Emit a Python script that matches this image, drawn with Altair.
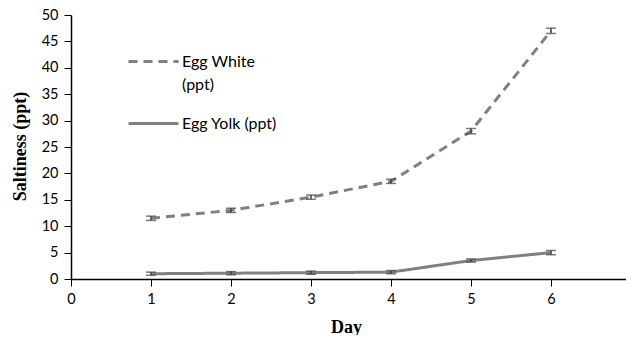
import altair as alt
import pandas as pd

days = [1, 2, 3, 4, 5, 6]
white = [11.5, 13.0, 15.5, 18.5, 28.0, 47.0]
yolk = [1.0, 1.1, 1.2, 1.3, 3.5, 5.0]
white_err = [0.4, 0.4, 0.4, 0.4, 0.5, 0.5]
yolk_err = [0.3, 0.3, 0.3, 0.3, 0.3, 0.4]
series = ["Egg White (ppt)", "Egg Yolk (ppt)"]
x_ticks = [0, 1, 2, 3, 4, 5, 6, 7]
y_ticks = [0, 5, 10, 15, 20, 25, 30, 35, 40, 45, 50]

rows = []
for d, v, e in zip(days, white, white_err):
    rows.append({"Day": d, "value": v, "lo": v - e, "hi": v + e, "series": series[0]})
for d, v, e in zip(days, yolk, yolk_err):
    rows.append({"Day": d, "value": v, "lo": v - e, "hi": v + e, "series": series[1]})
df = pd.DataFrame(rows)

FONT = "Lato"
xscale = alt.Scale(domain=[0, 7], nice=False, zero=False, range=[0, 560])
yscale = alt.Scale(domain=[0, 50], nice=False)

x_axis = alt.Axis(title="Day", values=x_ticks, format="d", grid=False,
                  domainColor="black", tickColor="black", domainWidth=1.5,
                  tickSize=7, labelPadding=6, labelFont=FONT, labelFontSize=14.5,
                  labelColor="black", labelOverlap=False, labelFlush=False,
                  titleFont="Liberation Serif", titleFontSize=18,
                  titleFontWeight="bold", titleColor="black",
                  titleX=275, titleY=48, titleAlign="center", titleBaseline="middle")
y_axis = alt.Axis(title="Saltiness (ppt)", values=y_ticks, format="d", grid=False,
                  domainColor="black", tickColor="black", domainWidth=1.5,
                  tickSize=7, labelPadding=6, labelFont=FONT, labelFontSize=14.5,
                  labelColor="black", labelOverlap=False, labelFlush=False,
                  titleFont="Liberation Serif", titleFontSize=18,
                  titleFontWeight="bold", titleColor="black",
                  titleX=-51, titleY=131, titleAngle=270, titleAlign="center",
                  titleBaseline="middle")

legend_kw = dict(title=None, orient="none", legendX=56, legendY=20,
                 symbolType="stroke", symbolStrokeWidth=3, symbolSize=2500,
                 labelFont=FONT, labelFontSize=16, labelColor="black",
                 labelOffset=2, rowPadding=4, labelLimit=300,
                 labelExpr="datum.label == 'Egg White (ppt)' ? ['Egg White', '(ppt)'] : datum.label")

base = alt.Chart(df)

lines = base.mark_line(strokeWidth=3).encode(
    x=alt.X("Day:Q", scale=xscale, axis=x_axis),
    y=alt.Y("value:Q", scale=yscale, axis=y_axis),
    color=alt.Color("series:N", scale=alt.Scale(domain=series, range=["#808080", "#808080"]),
                    legend=alt.Legend(**legend_kw)),
    strokeDash=alt.StrokeDash("series:N", scale=alt.Scale(domain=series, range=[[9, 6], [1, 0]]),
                              legend=alt.Legend(**legend_kw)),
)

rules = base.mark_rule(color="#404040", strokeWidth=1.5).encode(
    x=alt.X("Day:Q", scale=xscale, axis=x_axis),
    y=alt.Y("lo:Q", scale=yscale, axis=y_axis), y2="hi:Q")
caps_lo = base.mark_tick(color="#404040", orient="horizontal", size=10, thickness=1.5).encode(
    x=alt.X("Day:Q", scale=xscale, axis=x_axis), y=alt.Y("lo:Q", scale=yscale, axis=y_axis))
caps_hi = base.mark_tick(color="#404040", orient="horizontal", size=10, thickness=1.5).encode(
    x=alt.X("Day:Q", scale=xscale, axis=x_axis), y=alt.Y("hi:Q", scale=yscale, axis=y_axis))

chart = alt.layer(lines, rules, caps_lo, caps_hi).properties(
    width=555, height=264,
    autosize=alt.AutoSizeParams(type="none"),
    padding={"left": 63, "top": 7, "right": 0, "bottom": 56},
).configure(
    background="white",
    view=alt.ViewConfig(stroke=None),
    style={"guide-label": {"lineHeight": 23}},
)

chart.save("out.html", embed_options={"renderer": "svg", "actions": False})
